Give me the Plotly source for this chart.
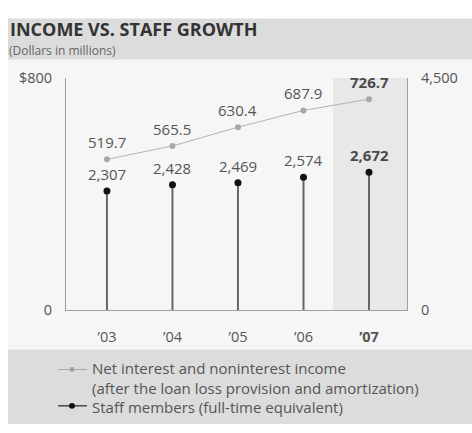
import plotly.graph_objects as go

# Fiscal years and the two series shown
years = ["’03", "’04", "’05", "’06", "’07"]
income = [519.7, 565.5, 630.4, 687.9, 726.7]      # $ millions, left axis
staff = [2307, 2428, 2469, 2574, 2672]            # FTE, right axis

W, H = 472, 433
FONT = "Open Sans"
TXT = "#555555"


def px(x):
    return x / W


def py(y):
    return 1 - y / H


xi = list(range(len(years)))
last = len(years) - 1

fig = go.Figure()

# Staff stems from zero up to each value
stem_x, stem_y = [], []
for i, v in zip(xi, staff):
    stem_x += [i, i, None]
    stem_y += [0, v, None]
fig.add_trace(go.Scatter(x=stem_x, y=stem_y, mode="lines", yaxis="y2",
                         line=dict(color="#666666", width=2),
                         hoverinfo="skip", showlegend=False))
fig.add_trace(go.Scatter(x=xi, y=staff, mode="markers", yaxis="y2",
                         marker=dict(color="#111111", size=7),
                         name="Staff members", showlegend=False))

# Income line
fig.add_trace(go.Scatter(x=xi, y=income, mode="lines+markers", yaxis="y",
                         line=dict(color="#b4b4b4", width=1),
                         marker=dict(color="#a8a8a8", size=6),
                         name="Income", showlegend=False))

# Value labels
ann = []
for i, v in zip(xi, income):
    t = f"{v:.1f}"
    ann.append(dict(x=i, y=v, xref="x", yref="y", text=f"<b>{t}</b>" if i == last else t,
                    showarrow=False, yshift=17,
                    font=dict(family=FONT, size=15, color="#4a4a4a" if i == last else TXT)))
for i, v in zip(xi, staff):
    t = f"{v:,}"
    ann.append(dict(x=i, y=v, xref="x", yref="y2", text=f"<b>{t}</b>" if i == last else t,
                    showarrow=False, yshift=17,
                    font=dict(family=FONT, size=15, color="#4a4a4a" if i == last else TXT)))

# Header text
ann.append(dict(x=px(8), y=py(20), xref="paper", yref="paper", xanchor="left", yanchor="middle",
                text="<b>INCOME VS. STAFF GROWTH</b>", showarrow=False,
                font=dict(family=FONT, size=18, color="#333333")))
ann.append(dict(x=px(7), y=py(42.5), xref="paper", yref="paper", xanchor="left", yanchor="middle",
                text="(Dollars in millions)", showarrow=False,
                font=dict(family=FONT, size=12, color="#666666")))

# Legend text (one block, three lines)
ann.append(dict(x=px(90), y=py(395), xref="paper", yref="paper", xanchor="left", yanchor="middle",
                align="left", showarrow=False,
                text=("Net interest and noninterest income<br>"
                      "(after the loan loss provision and amortization)<br>"
                      "Staff members (full-time equivalent)"),
                font=dict(family=FONT, size=15, color=TXT)))

y_leg1, y_leg2 = 376, 414
shapes = [
    # page bands
    dict(type="rect", xref="paper", yref="paper", x0=px(8), x1=1, y0=py(52), y1=py(9),
         fillcolor="#dcdcdc", line_width=0, layer="below"),
    dict(type="rect", xref="paper", yref="paper", x0=px(8), x1=1, y0=py(355), y1=py(52),
         fillcolor="#f6f6f6", line_width=0, layer="below"),
    dict(type="rect", xref="paper", yref="paper", x0=px(8), x1=1, y0=0, y1=py(355),
         fillcolor="#dcdcdc", line_width=0, layer="below"),
    # highlighted latest year
    dict(type="rect", xref="x", yref="y domain", x0=last - 0.55, x1=last + 0.58, y0=0, y1=1,
         fillcolor="#e8e8e8", line_width=0, layer="below"),
    # legend symbols
    dict(type="line", xref="paper", yref="paper", x0=px(58), x1=px(87), y0=py(y_leg1), y1=py(y_leg1),
         line=dict(color="#a8a8a8", width=1)),
    dict(type="circle", xref="paper", yref="paper", x0=px(69.5), x1=px(74.5),
         y0=py(y_leg1 + 2.5), y1=py(y_leg1 - 2.5), fillcolor="#a0a0a0", line_width=0),
    dict(type="line", xref="paper", yref="paper", x0=px(58), x1=px(87), y0=py(y_leg2), y1=py(y_leg2),
         line=dict(color="#222222", width=1.2)),
    dict(type="circle", xref="paper", yref="paper", x0=px(69), x1=px(75),
         y0=py(y_leg2 + 3), y1=py(y_leg2 - 3), fillcolor="#111111", line_width=0),
]

tick_font = dict(family=FONT, size=14.5, color=TXT)
fig.update_layout(
    width=W, height=H,
    margin=dict(l=0, r=0, t=0, b=0),
    paper_bgcolor="#ffffff", plot_bgcolor="rgba(0,0,0,0)",
    showlegend=False,
    annotations=ann, shapes=shapes,
    xaxis=dict(domain=[px(66), px(407)], range=[-0.625, last + 0.58],
               tickvals=xi, ticktext=years[:-1] + ["<b>" + years[-1] + "</b>"],
               showgrid=False, zeroline=False, showline=True, linecolor="#a0a0a0", linewidth=1,
               ticks="", ticklabelstandoff=13, tickfont=tick_font, fixedrange=True),
    yaxis=dict(domain=[py(314), py(71)], range=[0, 800],
               tickvals=[0, 800], ticktext=["0", "$800"],
               showgrid=False, zeroline=False, showline=True, linecolor="#a0a0a0", linewidth=1,
               ticks="inside", ticklen=9, tickcolor="#a0a0a0", ticklabelstandoff=10,
               tickfont=tick_font),
    yaxis2=dict(domain=[py(314), py(71)], range=[0, 4500], overlaying="y", side="right",
                anchor="x", tickvals=[0, 4500], ticktext=["0", "4,500"],
                showgrid=False, zeroline=False, showline=True, linecolor="#a0a0a0", linewidth=1,
                ticks="inside", ticklen=9, tickcolor="#a0a0a0", ticklabelstandoff=10,
                tickfont=tick_font),
)

fig.write_html("out.html")
